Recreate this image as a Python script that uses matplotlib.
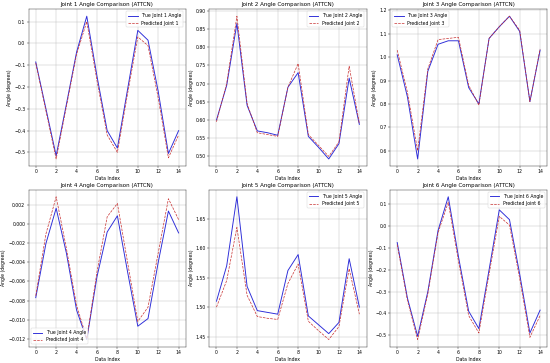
import numpy as np
import matplotlib
matplotlib.use("Agg")
from matplotlib import pyplot as plt

x = np.arange(15)

# true / predicted joint angles
true_j1 = [-0.085, -0.30, -0.515, -0.28, -0.04, 0.125, -0.15, -0.40, -0.48, -0.21, 0.06, 0.015, -0.22, -0.505, -0.40]
pred_j1 = [-0.09, -0.31, -0.53, -0.29, -0.05, 0.10, -0.17, -0.42, -0.50, -0.23, 0.03, -0.01, -0.25, -0.525, -0.42]

true_j2 = [0.60, 0.695, 0.865, 0.64, 0.57, 0.565, 0.558, 0.69, 0.73, 0.555, 0.525, 0.493, 0.535, 0.715, 0.588]
pred_j2 = [0.595, 0.70, 0.885, 0.645, 0.565, 0.56, 0.555, 0.69, 0.755, 0.56, 0.53, 0.50, 0.54, 0.748, 0.59]

true_j3 = [1.01, 0.83, 0.565, 0.94, 1.055, 1.07, 1.07, 0.87, 0.80, 1.08, 1.13, 1.175, 1.11, 0.81, 1.03]
pred_j3 = [1.03, 0.85, 0.60, 0.95, 1.075, 1.08, 1.085, 0.88, 0.795, 1.08, 1.13, 1.175, 1.115, 0.81, 1.035]

true_j4 = [-0.0077, -0.0020, 0.0017, -0.0030, -0.0090, -0.0121, -0.0055, -0.0008, 0.0009, -0.0050, -0.0107, -0.0099, -0.0040, 0.0014, -0.0009]
pred_j4 = [-0.0075, -0.0010, 0.0029, -0.0025, -0.0085, -0.0120, -0.0050, 0.0008, 0.0022, -0.0040, -0.0102, -0.0087, -0.0030, 0.0027, 0.0005]

true_j5 = [1.51, 1.57, 1.687, 1.535, 1.494, 1.491, 1.488, 1.562, 1.589, 1.485, 1.47, 1.455, 1.474, 1.582, 1.50]
pred_j5 = [1.50, 1.545, 1.635, 1.52, 1.484, 1.481, 1.479, 1.54, 1.573, 1.476, 1.46, 1.445, 1.467, 1.565, 1.488]

true_j6 = [-0.075, -0.33, -0.505, -0.30, -0.02, 0.135, -0.14, -0.39, -0.47, -0.20, 0.075, 0.03, -0.22, -0.49, -0.385]
pred_j6 = [-0.085, -0.34, -0.52, -0.31, -0.03, 0.11, -0.16, -0.41, -0.49, -0.22, 0.045, 0.005, -0.24, -0.51, -0.41]

true_all = [true_j1, true_j2, true_j3, true_j4, true_j5, true_j6]
pred_all = [pred_j1, pred_j2, pred_j3, pred_j4, pred_j5, pred_j6]
legend_locs = ["upper right", "upper right", "upper left", "lower left", "upper right", "upper right"]

fig, axes = plt.subplots(2, 3, figsize=(16.5, 10.89), dpi=550 / 16.5)

for i, ax in enumerate(axes.flat):
    ax.plot(x, true_all[i], color="#2b2bd8", label=f"True Joint {i+1} Angle", linewidth=2)
    ax.plot(x, pred_all[i], "--", color="#c83030", label=f"Predicted Joint {i+1}", linewidth=1.5)
    ax.set_title(f"Joint {i+1} Angle Comparison (ATTCN)", fontsize=12)
    ax.set_xlabel("Data Index")
    ax.set_ylabel("Angle (degrees)")
    ax.legend(loc=legend_locs[i])
    ax.grid(True)

# match the reference's tight margins
plt.subplots_adjust(left=0.052, right=0.995, top=0.975, bottom=0.045, wspace=0.15, hspace=0.15)
plt.savefig("out.png", dpi=550 / 16.5)
